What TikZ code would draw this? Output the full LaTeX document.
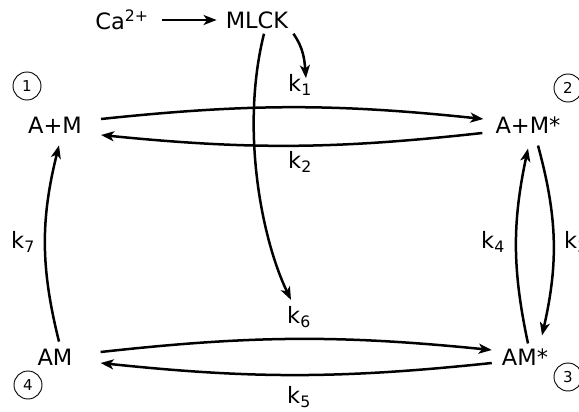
\documentclass[tikz,border=0pt]{standalone}
\usepackage{fontspec}
\setmainfont{DejaVu Sans}
\usetikzlibrary{arrows.meta}
\begin{document}
\begin{tikzpicture}[x=1pt, y=-1pt, font=\fontsize{22.5}{26}\selectfont,
  every node/.style={inner sep=0pt},
  rx/.style={-{Stealth[length=13pt,width=10pt,inset=3.5pt]}, line width=2.5pt},
  num/.style={draw, circle, minimum size=28pt, line width=0.9pt, font=\fontsize{15}{17}\selectfont}]
  \useasboundingbox (0,0) rectangle (579,412);
  % species
  \node (ca) at (122,20) {Ca\textsuperscript{2+}};
  \node (mlck) at (257,20) {MLCK};
  \node (am1) at (55,125) {A+M};
  \node (am2) at (528,125) {A+M*};
  \node (am3) at (525,357) {AM*};
  \node (am4) at (55,357) {AM};
  % state numbers
  \node [num] (n1) at (27,86) {1};
  \node [num] (n2) at (568,88) {2};
  \node [num] (n3) at (568,377) {3};
  \node [num] (n4) at (28,385) {4};
  % rate constants
  \node (k1) at (300,85) {k\textsubscript{1}};
  \node (k2) at (300,162) {k\textsubscript{2}};
  \node (k3) at (576,242) {k\textsubscript{3}};
  \node (k4) at (493,242) {k\textsubscript{4}};
  \node (k5) at (299,397) {k\textsubscript{5}};
  \node (k6) at (299,317) {k\textsubscript{6}};
  \node (k7) at (23,242) {k\textsubscript{7}};
  % calcium activates MLCK
  \draw [rx] ([xshift=13]ca.east) -- ([xshift=-9]mlck.west);
  \draw [rx] ([shift={(5,5)}]mlck.south east) to[out=-55, in=95] ([shift={(6,4)}]k1.north);
  \draw [rx] ([shift={(7,5)}]mlck.south) .. controls (240,130) and (262,240) .. ([shift={(-8,-6)}]k6.north);
  % horizontal steps
  \draw [rx] ([shift={(19,-6)}]am1.east) to[bend left=6] ([shift={(-12,-6)}]am2.west);
  \draw [rx] ([shift={(-13,8)}]am2.west) to[bend left=6] ([shift={(19,10)}]am1.east);
  \draw [rx] ([shift={(28,-5)}]am4.east) to[bend left=6] ([shift={(-10,-7)}]am3.west);
  \draw [rx] ([shift={(-10,6)}]am3.west) to[bend left=6] ([shift={(28,6)}]am4.east);
  % vertical steps
  \draw [rx] ([shift={(4,-7)}]am4.north) to[bend left=14] ([shift={(4,12)}]am1.south);
  \draw [rx] ([shift={(3,-5)}]am3.north) to[bend left=12] ([shift={(0,15)}]am2.south);
  \draw [rx] ([shift={(10,12)}]am2.south) to[bend left=14] ([shift={(17,-13)}]am3.north);
\end{tikzpicture}
\end{document}
